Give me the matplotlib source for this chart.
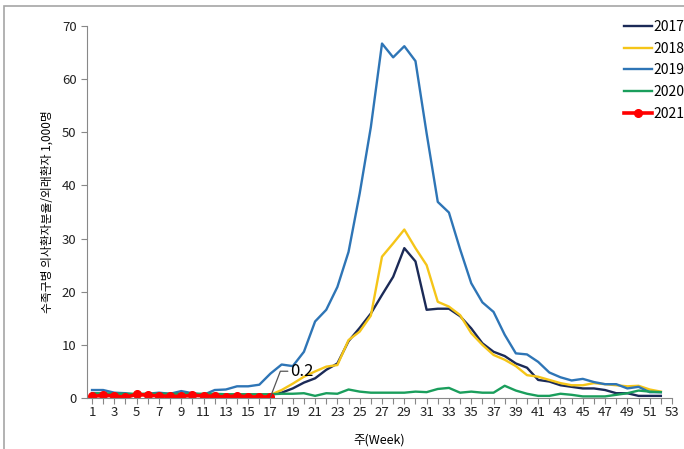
import matplotlib
matplotlib.use("Agg")
import matplotlib.pyplot as plt
from matplotlib.patches import Rectangle

plt.rcParams['font.family'] = ['Noto Sans CJK KR', 'DejaVu Sans']

weeks = list(range(1, 53))
weeks_2021 = list(range(1, 18))

y2017 = [0.7, 0.7, 0.6, 0.6, 0.6, 0.6, 0.7, 0.6, 0.6, 0.6, 0.6, 0.6, 0.6, 0.6, 0.6, 0.6, 0.6,
         1.0, 1.8, 2.9, 3.7, 5.3, 6.5, 10.7, 13.2, 15.9, 19.4, 22.8, 28.2, 25.7, 16.6, 16.8,
         16.8, 15.4, 13.1, 10.3, 8.7, 7.9, 6.5, 5.7, 3.4, 3.1, 2.4, 2.1, 1.8, 1.8, 1.5, 0.9,
         0.9, 0.4, 0.4, 0.4]
y2018 = [0.6, 0.6, 0.5, 0.5, 0.5, 0.6, 0.6, 0.5, 0.5, 0.5, 0.5, 0.6, 0.6, 0.6, 0.6, 0.6, 0.6,
         1.5, 2.7, 4.0, 5.0, 5.9, 6.2, 10.9, 12.5, 15.5, 26.6, 29.1, 31.7, 28.2, 25.0, 18.1,
         17.2, 15.6, 12.2, 10.0, 8.1, 7.2, 6.0, 4.3, 4.0, 3.4, 2.8, 2.4, 2.4, 2.8, 2.6, 2.4,
         2.2, 2.3, 1.6, 1.2]
y2019 = [1.5, 1.5, 1.0, 0.9, 0.6, 0.8, 1.0, 0.8, 1.3, 0.9, 0.6, 1.5, 1.6, 2.2, 2.2, 2.5, 4.6,
         6.3, 6.0, 8.7, 14.4, 16.6, 20.9, 27.5, 38.5, 51.0, 66.7, 64.1, 66.2, 63.4, 49.8, 36.9,
         34.9, 28.0, 21.6, 18.0, 16.2, 11.9, 8.4, 8.2, 6.8, 4.8, 3.9, 3.3, 3.6, 3.0, 2.6, 2.6,
         1.8, 2.1, 1.1, 1.1]
y2020 = [0.9, 0.9, 0.8, 0.8, 0.8, 0.8, 0.8, 0.8, 0.8, 0.8, 0.8, 0.8, 0.7, 0.7, 0.7, 0.7, 0.7,
         0.8, 0.8, 0.9, 0.4, 0.9, 0.8, 1.6, 1.2, 1.0, 1.0, 1.0, 1.0, 1.2, 1.1, 1.7, 1.9, 1.0,
         1.2, 1.0, 1.0, 2.3, 1.4, 0.8, 0.4, 0.4, 0.8, 0.6, 0.3, 0.3, 0.3, 0.6, 0.9, 1.4, 1.2,
         1.1]
y2021 = [0.3, 0.5, 0.4, 0.1, 0.7, 0.5, 0.4, 0.3, 0.3, 0.5, 0.4, 0.3, 0.2, 0.4, 0.2, 0.2, 0.2]

x_ticks = list(range(1, 54, 2))
y_ticks = list(range(0, 71, 10))

fig = plt.figure(figsize=(6.84, 4.49), dpi=100)
ax = fig.add_axes([87/684, 51/449, 585/684, 372/449])

# 회색 테두리
fig.patches.append(Rectangle((4/684, -0.1), 1.2, 1 - 6/449 + 0.1, transform=fig.transFigure,
                             fill=False, edgecolor='#a6a6a6', lw=1.2))

ax.plot(weeks, y2017, color='#1b2a57', lw=1.7, label='2017')
ax.plot(weeks, y2018, color='#f5c518', lw=1.7, label='2018')
ax.plot(weeks, y2019, color='#2e75b6', lw=1.7, label='2019')
ax.plot(weeks, y2020, color='#1a9e5c', lw=1.7, label='2020')
ax.plot(weeks_2021, y2021, color='#ff0000', lw=2.6, marker='o', markersize=5.5, label='2021')

ax.annotate('0.2', xy=(17, y2021[-1]), xytext=(14.5, 18.5), textcoords='offset points',
            fontsize=12, va='center', ha='left',
            arrowprops=dict(arrowstyle='-', color='#555555', lw=0.9,
                            shrinkA=0, shrinkB=0, relpos=(0, 0.5),
                            connectionstyle='angle,angleA=0,angleB=69,rad=0'))

ax.set_xlim(0.55, 53)
ax.set_ylim(0, 70)
ax.set_xticks(x_ticks)
ax.set_xticks(weeks + [53], minor=True)
ax.set_yticks(y_ticks)
ax.tick_params(axis='both', labelsize=9.5, length=4, width=0.8, colors='#888888',
               labelcolor='#222222')
ax.tick_params(axis='x', which='minor', length=4, width=0.8, colors='#888888')
ax.tick_params(axis='x', pad=2)

for s in ['top', 'right']:
    ax.spines[s].set_visible(False)
for s in ['left', 'bottom']:
    ax.spines[s].set_color('#888888')
    ax.spines[s].set_linewidth(0.8)

ax.set_ylabel('수족구병 의사환자분율/외래환자 1,000명', fontsize=8.5, labelpad=6)
ax.set_xlabel('주(Week)', fontsize=9, labelpad=10)

fig.legend(loc='upper left', bbox_to_anchor=(624/684, 1 - 20/449), frameon=False,
           fontsize=10, handlelength=2.0, handletextpad=0.15, labelspacing=0.55,
           borderpad=0, borderaxespad=0)

fig.savefig('out.png', dpi=100)
